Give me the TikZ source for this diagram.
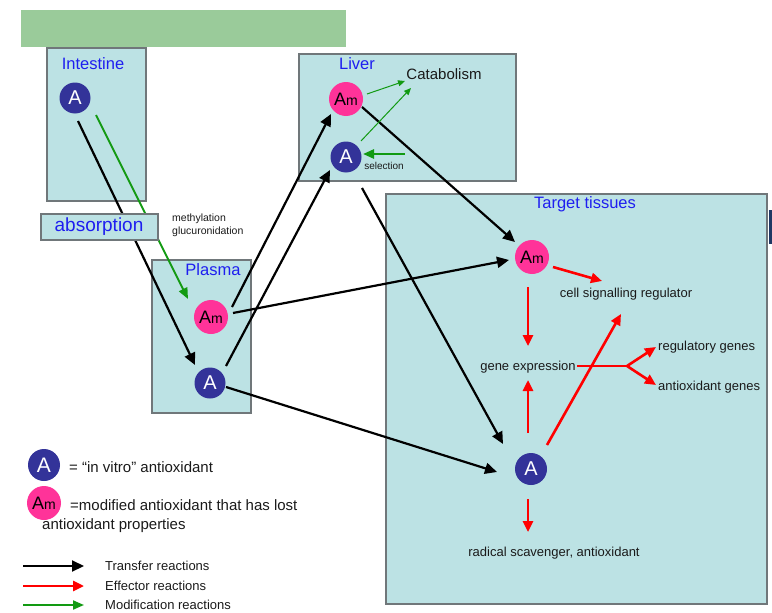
\documentclass[tikz,border=0pt]{standalone}
\usepackage{fontspec}
\setmainfont{Liberation Sans}
\usetikzlibrary{arrows.meta}

\begin{document}
\begin{tikzpicture}[x=1pt,y=-1pt]

% Colours
\definecolor{boxFill}{HTML}{BCE2E4}
\definecolor{boxLine}{HTML}{70777A}
\definecolor{bannerGreen}{HTML}{9ACB9A}
\definecolor{titleBlue}{HTML}{1E1EF0}
\definecolor{aBlue}{HTML}{333399}
\definecolor{amPink}{HTML}{FF3399}
\definecolor{effRed}{HTML}{FF0000}
\definecolor{modGreen}{HTML}{129A12}
\definecolor{txtDark}{HTML}{1A1A1A}
\definecolor{barNavy}{HTML}{1F3864}

\tikzset{
  compart/.style={fill=boxFill, draw=boxLine, line width=1.3pt},
  comptitle/.style={text=titleBlue, font=\fontsize{16.5}{18}\selectfont},
  antiox/.style={circle, fill=aBlue, text=white, minimum size=31pt, inner sep=0pt, font=\fontsize{20}{20}\selectfont},
  modified/.style={circle, fill=amPink, text=black, minimum size=34pt, inner sep=0pt, font=\fontsize{18}{18}\selectfont},
  note/.style={text=txtDark, font=\fontsize{13}{15}\selectfont, inner sep=0pt},
  smallnote/.style={text=txtDark, font=\fontsize{10.5}{12}\selectfont, inner sep=0pt},
  transfer/.style={draw=black, line width=2.2pt, -{Triangle[length=12pt,width=11pt]}},
  effector/.style={draw=effRed, line width=2.6pt, -{Triangle[length=11pt,width=10pt]}},
  modif/.style={draw=modGreen, line width=2pt, -{Triangle[length=11pt,width=9pt]}},
  modthin/.style={draw=modGreen, line width=1pt, -{Triangle[length=7pt,width=6pt]}},
}

\useasboundingbox (0,0) rectangle (772,613);

% Banner
\fill[bannerGreen] (21,10) rectangle (346,47);
\fill[barNavy] (769,210) rectangle (772,244);

% Compartments
\draw[compart] (47,48) rectangle (146,201);
\draw[compart] (152,260) rectangle (251,413);
\draw[compart] (299,54) rectangle (516,181);
\draw[compart] (386,194) rectangle (767,604);

\node[comptitle] (intTitle) at (93,64) {Intestine};
\node[comptitle] (plasTitle) at (213,270) {Plasma};
\node[comptitle] (livTitle) at (357,64) {Liver};
\node[comptitle] (tgtTitle) at (585,204) {Target tissues};

% Molecules
\node[antiox] (intA) at (75,98) {A};
\node[modified] (plasAm) at (211,317) {A{\fontsize{14}{14}\selectfont m}};
\node[antiox] (plasA) at (210,383) {A};
\node[modified] (livAm) at (346,99) {A{\fontsize{14}{14}\selectfont m}};
\node[antiox] (livA) at (346,157) {A};
\node[modified] (tgtAm) at (532,257) {A{\fontsize{14}{14}\selectfont m}};
\node[antiox, minimum size=32pt] (tgtA) at (531,469) {A};

% Texts
\node[smallnote, anchor=west] (methyl) at (172,219) {methylation};
\node[smallnote, anchor=west] (glucur) at (172,232) {glucuronidation};
\node[text=txtDark, font=\fontsize{15}{17}\selectfont, inner sep=0pt] (catab) at (444,74) {Catabolism};
\node[smallnote, font=\fontsize{10}{12}\selectfont] (selec) at (384,166) {selection};
\node[note] (cellsig) at (626,294) {cell signalling regulator};
\node[note] (geneexp) at (528,367) {gene expression};
\node[note, anchor=west] (reggenes) at (658,347) {regulatory genes};
\node[note, anchor=west] (aoxgenes) at (658,387) {antioxidant genes};
\node[note] (radscav) at (554,553) {radical scavenger, antioxidant};
\coordinate (branch) at (627,366);

% Transfer reactions
\draw[transfer] ([shift={(3,23)}]intA.center) -- ([shift={(-15,-18)}]plasA.center);
\draw[transfer] ([shift={(21,-10)}]plasAm.center) -- ([shift={(-15,15)}]livAm.center);
\draw[transfer] ([shift={(16,-17)}]plasA.center) -- ([shift={(-16,13)}]livA.center);
\draw[transfer] ([shift={(22,-4)}]plasAm.center) -- ([shift={(-23,3)}]tgtAm.center);
\draw[transfer] ([shift={(16,4)}]plasA.center) -- ([shift={(-34,3)}]tgtA.center);
\draw[transfer] ([shift={(16,8)}]livAm.center) -- ([shift={(-17,-15)}]tgtAm.center);
\draw[transfer] ([shift={(16,31)}]livA.center) -- ([shift={(-28,-25)}]tgtA.center);

% Modification reactions
\draw[modif] ([shift={(21,17)}]intA.center) -- ([shift={(-23,-18)}]plasAm.center);
\draw[modthin] ([shift={(21,-5)}]livAm.center) -- ([shift={(-39,7)}]catab.center);
\draw[modthin] ([shift={(15,-16)}]livA.center) -- ([shift={(-33,14)}]catab.center);
\draw[modif, line width=2.5pt] ([shift={(21,-12)}]selec.center) -- ([shift={(17,-3)}]livA.center);

% Effector reactions
\draw[effector] ([shift={(21,10)}]tgtAm.center) -- ([shift={(-24,-13)}]cellsig.center);
\draw[effector] ([shift={(-4,30)}]tgtAm.center) -- ([shift={(0,-21)}]geneexp.center);
\draw[effector] ([shift={(-3,-36)}]tgtA.center) -- ([shift={(0,13)}]geneexp.center);
\draw[effector] ([shift={(16,-24)}]tgtA.center) -- ([shift={(-5,20)}]cellsig.center);
\draw[effector, -] ([shift={(49,-1)}]geneexp.center) -- (branch);
\draw[effector] (branch) -- ([shift={(-2,0)}]reggenes.west);
\draw[effector] (branch) -- ([shift={(-2,-2)}]aoxgenes.west);
\draw[effector] ([shift={(-3,30)}]tgtA.center) -- ([shift={(-26,-21)}]radscav.center);

% Absorption
\draw[compart] (41,214) rectangle (158,240);
\node[text=titleBlue, font=\fontsize{19}{21}\selectfont] (absorb) at (99,227) {absorption};

% Legend
\node[antiox, minimum size=32pt, font=\fontsize{21}{21}\selectfont] (legA) at (44,465) {A};
\node[modified] (legAm) at (44,503) {A{\fontsize{14}{14}\selectfont m}};
\node[text=txtDark, font=\fontsize{15}{17}\selectfont, inner sep=0pt, anchor=west] (legAtxt) at (69,467) {= “in vitro” antioxidant};
\node[text=txtDark, font=\fontsize{15}{17}\selectfont, inner sep=0pt, anchor=west] (legAmtxt) at (70,505) {=modified antioxidant that has lost};
\node[text=txtDark, font=\fontsize{15}{17}\selectfont, inner sep=0pt, anchor=west] (legAmtxt2) at (42,526) {antioxidant properties};

\coordinate (lgT0) at (23,566); \coordinate (lgT1) at (84,566);
\coordinate (lgE0) at (23,586); \coordinate (lgE1) at (84,586);
\coordinate (lgM0) at (23,605); \coordinate (lgM1) at (84,605);
\draw[transfer] (lgT0) -- (lgT1);
\draw[effector] (lgE0) -- (lgE1);
\draw[modif] (lgM0) -- (lgM1);
\node[note, anchor=west] (lgTtxt) at (105,566) {Transfer reactions};
\node[note, anchor=west] (lgEtxt) at (105,586) {Effector reactions};
\node[note, anchor=west] (lgMtxt) at (105,605) {Modification reactions};

\end{tikzpicture}
\end{document}
